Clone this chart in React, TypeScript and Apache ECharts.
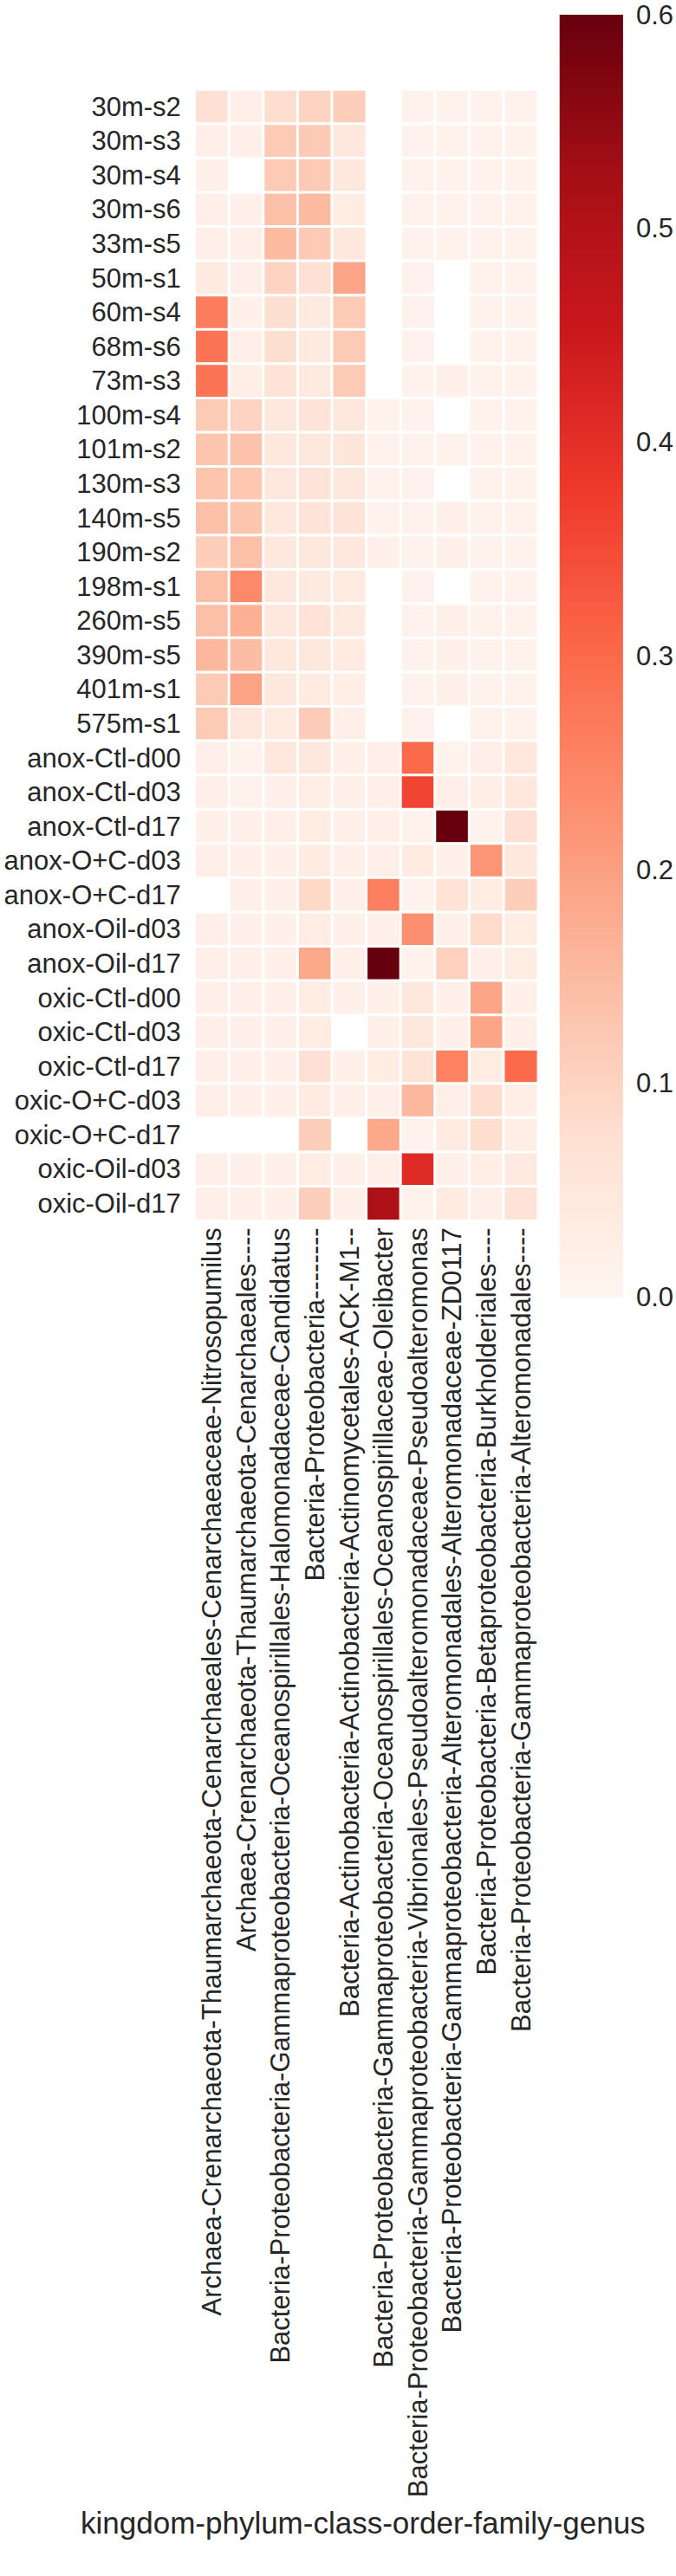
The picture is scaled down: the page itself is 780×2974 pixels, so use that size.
import React, { useEffect, useRef } from "react";
import * as echarts from "echarts";

const rowLabels = [
  "30m-s2", "30m-s3", "30m-s4", "30m-s6", "33m-s5", "50m-s1", "60m-s4", "68m-s6", "73m-s3",
  "100m-s4", "101m-s2", "130m-s3", "140m-s5", "190m-s2", "198m-s1", "260m-s5", "390m-s5",
  "401m-s1", "575m-s1", "anox-Ctl-d00", "anox-Ctl-d03", "anox-Ctl-d17", "anox-O+C-d03",
  "anox-O+C-d17", "anox-Oil-d03", "anox-Oil-d17", "oxic-Ctl-d00", "oxic-Ctl-d03",
  "oxic-Ctl-d17", "oxic-O+C-d03", "oxic-O+C-d17", "oxic-Oil-d03", "oxic-Oil-d17",
];

const colLabels = [
  "Archaea-Crenarchaeota-Thaumarchaeota-Cenarchaeales-Cenarchaeaceae-Nitrosopumilus",
  "Archaea-Crenarchaeota-Thaumarchaeota-Cenarchaeales----",
  "Bacteria-Proteobacteria-Gammaproteobacteria-Oceanospirillales-Halomonadaceae-Candidatus",
  "Bacteria-Proteobacteria--------",
  "Bacteria-Actinobacteria-Actinobacteria-Actinomycetales-ACK-M1--",
  "Bacteria-Proteobacteria-Gammaproteobacteria-Oceanospirillales-Oceanospirillaceae-Oleibacter",
  "Bacteria-Proteobacteria-Gammaproteobacteria-Vibrionales-Pseudoalteromonadaceae-Pseudoalteromonas",
  "Bacteria-Proteobacteria-Gammaproteobacteria-Alteromonadales-Alteromonadaceae-ZD0117",
  "Bacteria-Proteobacteria-Betaproteobacteria-Burkholderiales----",
  "Bacteria-Proteobacteria-Gammaproteobacteria-Alteromonadales----",
];

const axisTitle = "kingdom-phylum-class-order-family-genus";
const colorbarTicks = [0, 0.1, 0.2, 0.3, 0.4, 0.5, 0.6];

// one array per column (genus), values per sample row; null = missing
const nitrosopumilus = [0.07, 0.02, 0.015, 0.02, 0.02, 0.04, 0.265, 0.28, 0.28, 0.12, 0.13, 0.13, 0.14, 0.11, 0.14, 0.14, 0.155, 0.12, 0.12, 0.02, 0.02, 0.015, 0.02, null, 0.02, 0.02, 0.02, 0.02, 0.02, 0.02, null, 0.02, 0.02];
const cenarchaealesNA = [0.02, 0.015, null, 0.015, 0.02, 0.02, 0.015, 0.02, 0.025, 0.1, 0.135, 0.125, 0.13, 0.14, 0.24, 0.17, 0.145, 0.195, 0.045, 0.01, 0.01, 0.015, 0.015, 0.015, 0.015, 0.015, 0.015, 0.015, 0.015, 0.015, null, 0.015, 0.015];
const candidatus = [0.08, 0.12, 0.12, 0.14, 0.15, 0.1, 0.075, 0.075, 0.065, 0.05, 0.05, 0.05, 0.05, 0.05, 0.05, 0.05, 0.045, 0.05, 0.035, 0.05, 0.015, 0.02, 0.015, 0.015, 0.015, 0.015, 0.015, 0.015, 0.015, 0.015, null, 0.015, 0.015];
const proteobacteriaNA = [0.1, 0.12, 0.12, 0.15, 0.12, 0.07, 0.04, 0.04, 0.04, 0.06, 0.045, 0.06, 0.06, 0.045, 0.04, 0.065, 0.045, 0.035, 0.115, 0.05, 0.025, 0.03, 0.035, 0.09, 0.03, 0.185, 0.03, 0.03, 0.07, 0.035, 0.11, 0.03, 0.11];
const ackM1 = [0.11, 0.05, 0.05, 0.03, 0.05, 0.19, 0.12, 0.12, 0.12, 0.05, 0.055, 0.045, 0.06, 0.045, 0.035, 0.04, 0.035, 0.025, 0.02, 0.015, 0.015, 0.015, 0.015, 0.015, 0.015, 0.015, 0.015, null, 0.015, 0.015, null, 0.015, 0.015];
const oleibacter = [null, null, null, null, null, null, null, null, null, 0.01, 0.01, 0.01, 0.01, 0.015, null, null, null, null, null, 0.02, 0.02, 0.02, 0.02, 0.26, 0.015, 0.6, 0.015, 0.015, 0.03, 0.02, 0.185, 0.02, 0.51];
const pseudoalteromonas = [0.01, 0.01, 0.01, 0.01, 0.01, 0.01, 0.01, 0.01, 0.01, 0.01, 0.01, 0.01, 0.01, 0.01, 0.01, 0.01, 0.01, 0.01, 0.01, 0.3, 0.36, 0.01, 0.035, 0.01, 0.23, 0.01, 0.05, 0.05, 0.065, 0.155, 0.01, 0.41, 0.01];
const zd0117 = [0.01, 0.01, 0.01, 0.01, 0.01, null, null, null, 0.015, null, 0.01, null, 0.015, 0.015, null, 0.015, 0.015, 0.015, null, 0.01, 0.02, 0.6, 0.015, 0.065, 0.015, 0.105, 0.015, 0.015, 0.255, 0.02, 0.035, 0.015, 0.035];
const burkholderiales = [0.01, 0.01, 0.01, 0.01, 0.01, 0.01, 0.01, 0.01, 0.01, 0.01, 0.01, 0.01, 0.01, 0.01, 0.01, 0.01, 0.01, 0.01, 0.01, 0.02, 0.025, 0.01, 0.22, 0.03, 0.085, 0.015, 0.19, 0.19, 0.03, 0.08, 0.08, 0.025, 0.02];
const alteromonadales = [0.01, 0.01, 0.01, 0.01, 0.01, 0.01, 0.01, 0.01, 0.01, 0.01, 0.01, 0.01, 0.01, 0.01, 0.01, 0.01, 0.01, 0.01, 0.01, 0.05, 0.05, 0.07, 0.05, 0.11, 0.03, 0.03, 0.015, 0.015, 0.3, 0.025, 0.025, 0.04, 0.065];

const columns = [
  nitrosopumilus, cenarchaealesNA, candidatus, proteobacteriaNA, ackM1,
  oleibacter, pseudoalteromonas, zd0117, burkholderiales, alteromonadales,
];

const reds = ["#fff5f0", "#fee0d2", "#fcbba1", "#fc9272", "#fb6a4a", "#ef3b2c", "#cb181d", "#a50f15", "#67000d"];

const FONT = "'Liberation Sans', Arial, Helvetica, sans-serif";
const TXT = "#262626";

export default function App() {
  const ref = useRef<HTMLDivElement>(null);

  useEffect(() => {
    if (!ref.current) return;
    const chart = echarts.init(ref.current, null, { renderer: "svg" });

    const heatData: any[] = [];
    columns.forEach((col, ci) => {
      col.forEach((v, ri) => {
        if (v !== null) heatData.push([ci, ri, v]);
      });
    });

    const gradStops = reds
      .slice()
      .reverse()
      .map((c, i) => ({ offset: i / (reds.length - 1), color: c }));

    chart.setOption({
      animation: false,
      backgroundColor: "#ffffff",
      textStyle: { fontFamily: FONT },
      grid: [
        { left: 224.8, top: 103.5, width: 396, height: 1305.8, containLabel: false },
        { left: 645.7, top: 15, width: 73.6, height: 1482.7, containLabel: false },
      ],
      xAxis: [
        {
          type: "category",
          gridIndex: 0,
          data: colLabels,
          position: "bottom",
          axisLine: { show: false },
          axisTick: { show: false },
          splitLine: { show: false },
          axisLabel: {
            rotate: 90,
            interval: 0,
            margin: 8,
            fontSize: 31,
            color: TXT,
            fontFamily: FONT,
          },
        },
        {
          type: "category",
          gridIndex: 1,
          data: [""],
          show: false,
        },
      ],
      yAxis: [
        {
          type: "category",
          gridIndex: 0,
          data: rowLabels,
          inverse: true,
          axisLine: { show: false },
          axisTick: { show: false },
          splitLine: { show: false },
          axisLabel: {
            interval: 0,
            margin: 16,
            fontSize: 31,
            color: TXT,
            fontFamily: FONT,
          },
        },
        {
          type: "value",
          gridIndex: 1,
          position: "right",
          min: 0,
          max: 0.6,
          interval: 0.1,
          axisLine: { show: false },
          axisTick: { show: false },
          splitLine: { show: false },
          axisLabel: {
            margin: 15,
            fontSize: 31,
            lineHeight: 24,
            padding: [10, 0, 0, 0],
            color: TXT,
            fontFamily: FONT,
            formatter: (v: number) => v.toFixed(1),
          },
        },
      ],
      visualMap: {
        show: false,
        type: "continuous",
        seriesIndex: 0,
        min: 0,
        max: 0.6,
        inRange: { color: reds },
      },
      series: [
        {
          type: "heatmap",
          xAxisIndex: 0,
          yAxisIndex: 0,
          data: heatData,
          itemStyle: { borderColor: "#ffffff", borderWidth: 3 },
          emphasis: { disabled: true },
          silent: true,
        },
        {
          type: "bar",
          xAxisIndex: 1,
          yAxisIndex: 1,
          data: [colorbarTicks[colorbarTicks.length - 1]],
          barWidth: "100%",
          silent: true,
          itemStyle: {
            color: new echarts.graphic.LinearGradient(0, 0, 0, 1, gradStops),
          },
        },
      ],
      graphic: [
        {
          type: "text",
          left: 423 - 330,
          top: 2895,
          style: {
            text: axisTitle,
            fontSize: 35,
            fontFamily: FONT,
            fill: TXT,
            width: 660,
            align: "center",
          },
        },
      ],
    });

    return () => chart.dispose();
  }, []);

  return (
    <div
      ref={ref}
      style={{ position: "absolute", left: 0, top: 0, width: 780, height: 2974, background: "#fff" }}
    />
  );
}
